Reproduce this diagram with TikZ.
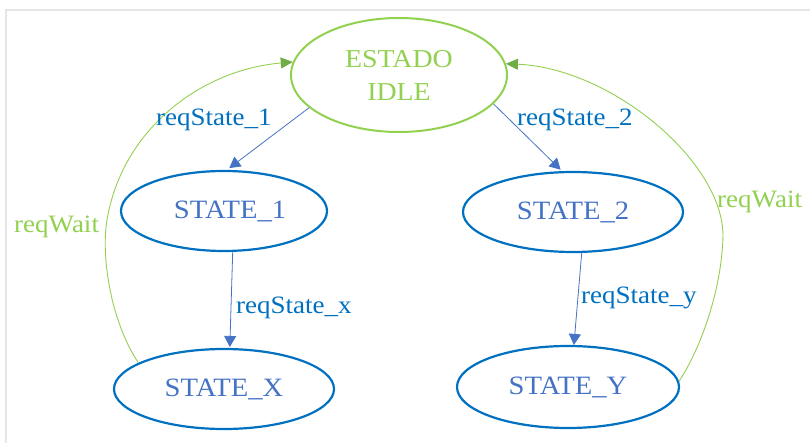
\documentclass[tikz,border=0pt]{standalone}
\usepackage{fontspec}
\setmainfont{Liberation Serif}[FakeStretch=1.08]
\usetikzlibrary{shapes.geometric,arrows.meta}
\definecolor{lgreen}{HTML}{92D050}
\definecolor{dgreen}{HTML}{70AD47}
\definecolor{sblue}{HTML}{0070C0}
\definecolor{tblue}{HTML}{4472C4}
\definecolor{framegray}{HTML}{E6E6E6}

\begin{document}
\begin{tikzpicture}[x=1pt,y=-1pt,
  every node/.style={font=\fontsize{25}{33}\selectfont},
  state/.style={ellipse, draw=sblue, line width=2.2pt, text=tblue, inner sep=0pt,
    font=\fontsize{26.5}{33}\selectfont},
  idlestate/.style={ellipse, draw=lgreen, line width=2pt, text=lgreen, align=center, inner sep=0pt,
    font=\fontsize{25.8}{33}\selectfont},
  trans/.style={draw=tblue, line width=0.8pt, -{Triangle[length=11pt,width=12pt]}},
  back/.style={draw=lgreen, line width=0.9pt, -{Triangle[length=12pt,width=11pt,color=dgreen]}},
  tlabel/.style={text=sblue, anchor=base west, inner sep=0pt},
  wlabel/.style={text=lgreen, anchor=base west, inner sep=0pt}
]
\useasboundingbox (0,0) rectangle (810,443);

% page frame (top and left edges)
\draw[framegray, line width=2pt] (6,443) -- (6,10.5) -- (810,10.5);

% states
\node[idlestate, minimum width=216pt, minimum height=114pt] (idle) at (399,75) {ESTADO\\IDLE};
\node[state, minimum width=206pt, minimum height=80pt] (s1) at (224,211) {\hspace*{12pt}STATE\_1};
\node[state, minimum width=220pt, minimum height=80pt] (s2) at (573,212) {STATE\_2};
\node[state, minimum width=220pt, minimum height=80pt] (sx) at (224,389) {STATE\_X};
\node[state, minimum width=222pt, minimum height=82pt] (sy) at (568,387) {STATE\_Y};

% forward transitions
\draw[trans, shorten >=3pt] (idle.200) -- (s1.86);
\draw[trans, shorten >=2pt] (idle.343) -- (s2.105);
\draw[trans, shorten >=1pt] (s1.282) -- (sx.82);
\draw[trans] (s2.282) -- (sy.82);

% return transitions to idle
\draw[back] (sx.163) .. controls (110,320) and (101,255) .. (107,220)
  .. controls (122,130) and (200,70) .. (idle.173);
\draw[back] (sy.3) .. controls (700,350) and (722,290) .. (723,235)
  .. controls (722,160) and (610,68) .. (idle.6);

% transition labels
\node[tlabel] (l1) at (156,126) {reqState\_1};
\node[tlabel] (l2) at (517,126) {reqState\_2};
\node[tlabel] (lx) at (236,313) {reqState\_x};
\node[tlabel] (ly) at (581,303.5) {reqState\_y};
\node[wlabel] (w1) at (14,233) {reqWait};
\node[wlabel] (w2) at (717,208) {reqWait};
\end{tikzpicture}
\end{document}
